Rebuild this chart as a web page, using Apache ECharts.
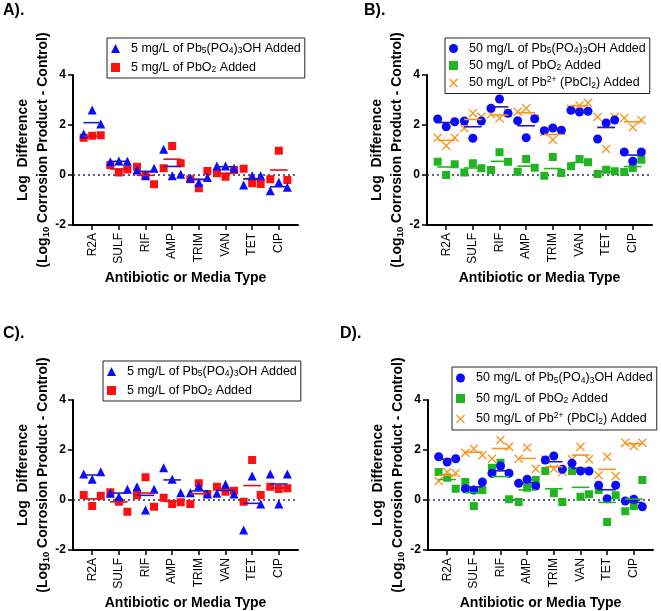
<!DOCTYPE html>
<html><head><meta charset="utf-8">
<script src="https://cdn.jsdelivr.net/npm/echarts@6/dist/echarts.min.js"></script>
<style>html,body{margin:0;padding:0;background:#fff}#c{width:661px;height:611px}</style>
</head><body><div id="c"></div><script>
// ---------- DATA ----------
const categories = ['R2A','SULF','RIF','AMP','TRIM','VAN','TET','CIP'];
const yTicks = [-2, 0, 2, 4];
const panelTitles = ['A).', 'B).', 'C).', 'D).'];
const xTitle = 'Antibiotic or Media Type';

const N_HAP5 = '5 mg/L of Pb5(PO4)3OH Added';
const N_PBO2_5 = '5 mg/L of PbO2 Added';
const N_HAP50 = '50 mg/L of Pb5(PO4)3OH Added';
const N_PBO2_50 = '50 mg/L of PbO2 Added';
const N_PBCL2_50 = '50 mg/L of Pb2+ (PbCl2) Added';

// Panel A
const A_hap5 = [[1.64,2.60,2.04],[0.53,0.56,0.55],[0.20,-0.03,0.27],[1.03,-0.03,0.03],[-0.13,-0.30,-0.10],[0.36,0.36,0.27],[-0.40,-0.03,-0.03],[-0.63,-0.29,-0.49]];
const A_pbo2 = [[1.49,1.57,1.59],[0.40,0.10,0.22],[0.33,0.00,-0.37],[0.27,1.16,0.47],[-0.17,-0.53,0.16],[0.07,-0.07,0.20],[0.25,-0.33,-0.36],[-0.17,0.97,-0.20]];
// Panel B
const B_hap50 = [[2.24,1.93,2.13],[2.16,1.47,2.16],[2.67,3.04,2.47],[2.17,1.49,2.25],[1.77,1.88,1.79],[2.59,2.52,2.55],[1.44,2.08,2.20],[0.92,0.55,0.92]];
const B_pbo2 = [[0.53,0.00,0.43],[0.10,0.47,0.27],[0.20,0.91,0.53],[0.13,0.64,0.29],[-0.03,0.72,0.08],[0.35,0.64,0.51],[0.04,0.21,0.15],[0.12,0.28,0.61]];
const B_pbcl2 = [[1.49,1.17,1.49],[1.87,2.47,2.33],[2.43,2.27,2.50],[2.53,2.67,2.27],[1.71,1.41,1.75],[2.65,2.78,2.88],[2.32,1.04,2.32],[2.28,1.91,2.20]];
// Panel C
const C_hap5 = [[1.04,0.83,1.13],[0.27,0.13,0.43],[0.53,-0.40,0.43],[1.29,0.83,0.29],[0.29,0.56,0.24],[0.27,0.63,0.24],[-1.20,0.96,-0.16],[1.04,-0.16,1.04]];
const C_pbo2 = [[0.20,-0.24,0.17],[0.31,-0.07,-0.47],[0.20,0.91,-0.27],[0.09,-0.16,-0.09],[-0.16,0.67,0.24],[0.53,0.33,0.37],[-0.07,1.60,0.20],[0.53,0.44,0.47]];
// Panel D
const D_hap50 = [[1.73,1.52,1.65],[0.45,0.40,0.72],[1.07,1.36,1.07],[0.67,0.83,0.56],[1.60,1.76,1.23],[1.47,1.16,1.16],[0.59,0.05,0.59],[-0.04,0.03,-0.27]];
const D_pbo2 = [[1.12,0.89,0.45],[0.72,-0.24,0.40],[1.29,1.49,0.03],[-0.08,0.49,0.80],[1.16,0.27,-0.08],[1.16,0.13,0.23],[0.40,-0.88,0.19],[-0.45,-0.24,0.80]];
const D_pbcl2 = [[0.76,1.12,1.07],[1.89,2.05,1.79],[1.65,2.40,2.13],[1.65,2.09,1.25],[1.62,1.25,1.12],[1.63,2.13,1.63],[0.99,1.73,0.96],[2.29,2.16,2.29]];

// ---------- STYLE ----------
const FONT = '"Liberation Sans", Arial, sans-serif';
const JITTER = [-0.32, 0, 0.32];
const X_PATH = 'path://M1,0 L5,4 L9,0 L10,1 L6,5 L10,9 L9,10 L5,6 L1,10 L0,9 L4,5 L0,1 Z';
const STY = {
  tri:  {symbol:'triangle', size:9, color:'#0a0aff', mean:'#1c1cc8'},
  red:  {symbol:'rect', size:8, color:'#ff1010', mean:'#e01020'},
  circ: {symbol:'circle', size:9, color:'#0a0aff', mean:'#1c1cc8'},
  grn:  {symbol:'rect', size:8, color:'#22b522', mean:'#22b522'},
  xo:   {symbol:X_PATH, size:9, color:'#f7941d', mean:'#f7941d'}
};
const RICH_NAMES = {};
RICH_NAMES[N_HAP5] = '5 mg/L of Pb{s|5}(PO{s|4}){s|3}OH Added';
RICH_NAMES[N_PBO2_5] = '5 mg/L of PbO{s|2} Added';
RICH_NAMES[N_HAP50] = '50 mg/L of Pb{s|5}(PO{s|4}){s|3}OH Added';
RICH_NAMES[N_PBO2_50] = '50 mg/L of PbO{s|2} Added';
RICH_NAMES[N_PBCL2_50] = '50 mg/L of Pb{p|2+} (PbCl{s|2}) Added';

const panels = [
  {grid:{left:73, top:75}, title:[3,3], legend:{left:107, top:38, fs:12.5, lh:15, gap:4},
   series:[{name:N_PBO2_5, data:A_pbo2, st:STY.red},{name:N_HAP5, data:A_hap5, st:STY.tri}],
   legendOrder:[N_HAP5, N_PBO2_5]},
  {grid:{left:427, top:75}, title:[364,3], legend:{left:445, top:38, fs:12.5, lh:15, gap:2},
   series:[{name:N_PBO2_50, data:B_pbo2, st:STY.grn},{name:N_PBCL2_50, data:B_pbcl2, st:STY.xo},{name:N_HAP50, data:B_hap50, st:STY.circ}],
   legendOrder:[N_HAP50, N_PBO2_50, N_PBCL2_50]},
  {grid:{left:73, top:400}, title:[3,326], legend:{left:103, top:361, fs:12.5, lh:15, gap:4},
   series:[{name:N_PBO2_5, data:C_pbo2, st:STY.red},{name:N_HAP5, data:C_hap5, st:STY.tri}],
   legendOrder:[N_HAP5, N_PBO2_5]},
  {grid:{left:428, top:400}, title:[340,326], legend:{left:452, top:367, fs:12.5, lh:16, gap:4.5},
   series:[{name:N_PBO2_50, data:D_pbo2, st:STY.grn},{name:N_PBCL2_50, data:D_pbcl2, st:STY.xo},{name:N_HAP50, data:D_hap50, st:STY.circ}],
   legendOrder:[N_HAP50, N_PBO2_50, N_PBCL2_50]}
];

const catIdx = categories.map((c, i) => i);
const option = {
  animation:false, backgroundColor:'#fff',
  textStyle:{fontFamily:FONT},
  title:[], grid:[], xAxis:[], yAxis:[], legend:[], series:[]
};

panels.forEach((p, k) => {
  option.title.push({text:panelTitles[k], left:p.title[0], top:p.title[1], padding:0,
    textStyle:{fontFamily:FONT, fontSize:16, fontWeight:'bold', color:'#000'}});
  option.grid.push({left:p.grid.left, top:p.grid.top, width:225, height:150, containLabel:false, outerBoundsMode:'none'});
  option.xAxis.push({type:'value', gridIndex:k, min:-0.72, max:7.72,
    splitLine:{show:false},
    axisLine:{show:true, onZero:false, lineStyle:{color:'#000', width:2}},
    axisTick:{show:true, customValues:catIdx, length:5, lineStyle:{color:'#000', width:1.5}},
    axisLabel:{show:true, customValues:catIdx, rotate:90, margin:8, fontSize:12, color:'#000', fontFamily:FONT,
      formatter:v => categories[Math.round(v)]},
    name:xTitle, nameLocation:'middle', nameGap:46,
    nameTextStyle:{fontFamily:FONT, fontSize:14, fontWeight:'bold', color:'#000'}});
  option.yAxis.push({type:'value', gridIndex:k, min:yTicks[0], max:yTicks[yTicks.length-1], interval:2,
    splitLine:{show:false},
    axisLine:{show:true, onZero:false, lineStyle:{color:'#000', width:2}},
    axisTick:{show:true, length:5, lineStyle:{color:'#000', width:1.5}},
    axisLabel:{show:true, margin:7, fontSize:12, fontWeight:'bold', color:'#000', fontFamily:FONT},
    name:'Log  Difference\n(Log{s|10} Corrosion Product - Control)',
    nameLocation:'middle', nameRotate:90, nameGap:20, nameMoveOverlap:false,
    nameTextStyle:{fontFamily:FONT, fontSize:14, fontWeight:'bold', color:'#000', lineHeight:20, align:'center',
      rich:{s:{fontFamily:FONT, fontSize:9.5, fontWeight:'bold', color:'#000', padding:[6,0,0,0]}}}});
  option.legend.push({orient:'vertical', left:p.legend.left, top:p.legend.top, data:p.legendOrder,
    selectedMode:false, borderColor:'#222', borderWidth:1, borderRadius:0,
    padding:[3,4,3,4], itemGap:p.legend.gap, itemWidth:9, itemHeight:9,
    formatter:n => RICH_NAMES[n],
    textStyle:{fontFamily:FONT, fontSize:p.legend.fs, color:'#000', lineHeight:p.legend.lh, padding:[0,0,0,6],
      rich:{s:{fontFamily:FONT, fontSize:p.legend.fs*0.68, color:'#000', padding:[5,0,0,0]},
            p:{fontFamily:FONT, fontSize:p.legend.fs*0.68, color:'#000', padding:[0,0,7,0]}}}});
  p.series.forEach((s, j) => {
    const pts = [];
    s.data.forEach((vals, i) => vals.forEach((v, m) => pts.push([i + JITTER[m % JITTER.length], v])));
    const ser = {type:'scatter', name:s.name, xAxisIndex:k, yAxisIndex:k,
      symbol:s.st.symbol, symbolSize:s.st.size, itemStyle:{color:s.st.color, opacity:1},
      data:pts, z:3 + j};
    if (j === 0) {
      ser.markLine = {silent:true, symbol:'none', label:{show:false},
        lineStyle:{type:[2,3], color:'#2a2a60', width:1.5}, data:[{yAxis:0}], z:1};
    }
    option.series.push(ser);
  });
  p.series.forEach((s, j) => {
    const means = s.data.map((vals, i) => [i, vals.reduce((a, b) => a + b, 0) / vals.length]);
    option.series.push({type:'custom', name:s.name + ' mean', xAxisIndex:k, yAxisIndex:k, z:10,
      silent:true, data:means,
      renderItem:(params, api) => {
        const x = api.value(0), y = api.value(1);
        const a = api.coord([x - 0.33, y]), b = api.coord([x + 0.33, y]);
        return {type:'line', shape:{x1:a[0], y1:a[1], x2:b[0], y2:b[1]},
          style:{stroke:s.st.mean, lineWidth:1.6}};
      }});
  });
});

const chart = echarts.init(document.getElementById('c'), null, {renderer:'canvas'});
chart.setOption(option);
</script></body></html>
